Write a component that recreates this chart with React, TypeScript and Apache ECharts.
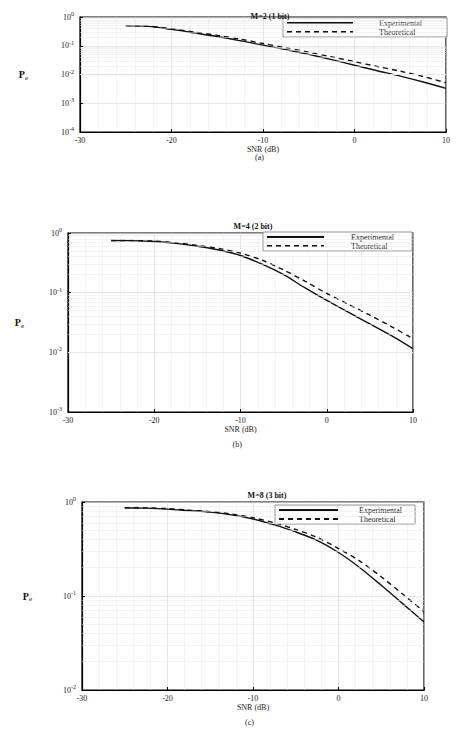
import React, { useEffect, useRef } from "react";
import * as echarts from "echarts";

const snr = [-25, -22.5, -20, -17.5, -15, -12.5, -10, -7.5, -5, -2.5, 0, 2.5, 5, 7.5, 10];
const expA = [0.5, 0.47, 0.37, 0.28, 0.21, 0.15, 0.105, 0.073, 0.05, 0.033, 0.021, 0.0135, 0.0088, 0.0055, 0.0033];
const theoA = [0.5, 0.48, 0.39, 0.3, 0.23, 0.17, 0.12, 0.085, 0.06, 0.041, 0.028, 0.019, 0.013, 0.0085, 0.0052];
const expB = [0.75, 0.745, 0.72, 0.67, 0.6, 0.52, 0.42, 0.3, 0.2, 0.12, 0.074, 0.047, 0.03, 0.019, 0.0115];
const theoB = [0.75, 0.747, 0.73, 0.685, 0.62, 0.55, 0.46, 0.35, 0.24, 0.155, 0.097, 0.064, 0.042, 0.027, 0.017];
const expC = [0.87, 0.86, 0.84, 0.81, 0.78, 0.73, 0.66, 0.57, 0.48, 0.39, 0.29, 0.2, 0.13, 0.083, 0.053];
const theoC = [0.87, 0.865, 0.85, 0.82, 0.79, 0.745, 0.68, 0.6, 0.51, 0.42, 0.32, 0.235, 0.16, 0.105, 0.068];

const titles = ["M=2 (1 bit)", "M=4 (2 bit)", "M=8 (3 bit)"];
const panelLabels = ["(a)", "(b)", "(c)"];
const yMins = [1e-4, 1e-3, 1e-2];
const legendNames = ["Experimental", "Theoretical"];
const xTicks = { min: -30, max: 10, interval: 10 };
const minorMantissas = [2, 3, 4, 5, 6, 7, 8, 9];

const FONT = "Liberation Serif";

const layouts = [
  { left: 80, top: 17, width: 366, height: 115, titleX: 265, titleY: 7, legL: 283, legT: 18, iw: 66, padL: 21, padR: 25, nameGap: 52, labelY: 153 },
  { left: 68, top: 233, width: 345, height: 179, titleX: 248, titleY: 217, legL: 263, legT: 232, iw: 57, padL: 22, padR: 18, nameGap: 44, labelY: 440 },
  { left: 82, top: 502, width: 342, height: 188, titleX: 262, titleY: 486, legL: 275, legT: 505, iw: 59, padL: 16, padR: 13, nameGap: 50, labelY: 718 },
];

export default function App() {
  const ref = useRef<HTMLDivElement>(null);
  useEffect(() => {
    if (!ref.current) return;
    const chart = echarts.init(ref.current, undefined, { renderer: "svg" });
    const series: any[] = [];
    const exps = [expA, expB, expC];
    const theos = [theoA, theoB, theoC];
    const grid: any[] = [];
    const xAxis: any[] = [];
    const yAxis: any[] = [];
    const title: any[] = [];
    const legend: any[] = [];
    const graphic: any[] = [];

    layouts.forEach((L, i) => {
      grid.push({
        left: L.left, top: L.top, width: L.width, height: L.height,
        show: true, borderColor: "#000", borderWidth: 1.2, backgroundColor: "#fff",
      });
      xAxis.push({
        type: "value", gridIndex: i, min: xTicks.min, max: xTicks.max, interval: xTicks.interval,
        name: "SNR (dB)", nameLocation: "middle", nameGap: 13,
        nameTextStyle: { fontFamily: FONT, fontSize: 8, color: "#222" },
        axisLine: { show: true, onZero: false, lineStyle: { color: "#000", width: 1.2 } },
        axisTick: { show: true, inside: true, length: 3, lineStyle: { color: "#000" } },
        axisLabel: { fontFamily: FONT, fontSize: 8, color: "#222", margin: 4 },
        splitLine: { show: true, lineStyle: { color: "#d4d4d4", width: 0.6 } },
        minorTick: { show: false, splitNumber: 5 },
        minorSplitLine: { show: true, lineStyle: { color: "#e6e6e6", width: 0.5 } },
      });
      yAxis.push({
        type: "log", logBase: 10, gridIndex: i, min: yMins[i], max: 1,
        name: "{p|P}{e|e}", nameLocation: "middle", nameRotate: 0, nameGap: L.nameGap,
        nameTextStyle: {
          rich: {
            p: { fontFamily: FONT, fontSize: 10, color: "#111", fontWeight: "bold" },
            e: { fontFamily: FONT, fontSize: 7, color: "#111", padding: [6, 0, 0, 0] },
          },
        },
        axisLine: { show: true, onZero: false, lineStyle: { color: "#000", width: 1.2 } },
        axisTick: { show: true, inside: true, length: 3, lineStyle: { color: "#000" } },
        axisLabel: {
          margin: 6,
          formatter: (v: number) => `{b|10}{s|${Math.round(Math.log10(v))}}`,
          rich: {
            b: { fontFamily: FONT, fontSize: 8, color: "#222" },
            s: { fontFamily: FONT, fontSize: 6, color: "#222", padding: [0, 0, 6, 0] },
          },
        },
        splitLine: { show: true, lineStyle: { color: "#d4d4d4", width: 0.6 } },
      });
      title.push({
        text: titles[i], left: L.titleX, top: L.titleY, textAlign: "center",
        textStyle: { fontFamily: FONT, fontSize: 8, fontWeight: "bold", color: "#111" },
      });
      legend.push({
        data: legendNames, orient: "vertical", left: L.legL, top: L.legT,
        itemWidth: L.iw, itemHeight: 6, itemGap: 1, padding: [1, L.padR, 1, 3],
        backgroundColor: "#fff", borderColor: "#777", borderWidth: 0.8,
        itemStyle: { opacity: 0 },
        textStyle: { fontFamily: FONT, fontSize: 8, color: "#222", padding: [0, 0, 0, L.padL] },
        selectedMode: false,
      });
      const minorLines: any[] = [];
      for (let e = Math.round(Math.log10(yMins[i])); e < 0; e++) {
        minorMantissas.forEach((m) => minorLines.push({ yAxis: m * Math.pow(10, e) }));
      }
      series.push({
        name: legendNames[0], type: "line", xAxisIndex: i, yAxisIndex: i,
        data: snr.map((x, k) => [x, exps[i][k]]), symbol: "none", smooth: 0.3,
        lineStyle: { color: "#111", width: 1.4, type: "solid" }, itemStyle: { color: "#111" },
        markLine: {
          silent: true, symbol: "none", label: { show: false },
          lineStyle: { color: "#e6e6e6", width: 0.5, type: "solid" },
          data: minorLines,
        },
        z: 3,
      });
      series.push({
        name: legendNames[1], type: "line", xAxisIndex: i, yAxisIndex: i,
        data: snr.map((x, k) => [x, theos[i][k]]), symbol: "none", smooth: 0.3,
        lineStyle: { color: "#111", width: 1.4, type: [5, 4] }, itemStyle: { color: "#111" },
        z: 3,
      });
      graphic.push({
        type: "text", left: L.left + L.width / 2 - 8, top: L.labelY,
        style: { text: panelLabels[i], font: `8px "${FONT}"`, fill: "#222" },
      });
    });

    chart.setOption({
      animation: false,
      backgroundColor: "#fff",
      grid, xAxis, yAxis, title, legend, series, graphic,
    });
    return () => chart.dispose();
  }, []);
  return (
    <div
      ref={ref}
      style={{ position: "fixed", left: 0, top: 0, width: 456, height: 738, background: "#fff" }}
    />
  );
}
